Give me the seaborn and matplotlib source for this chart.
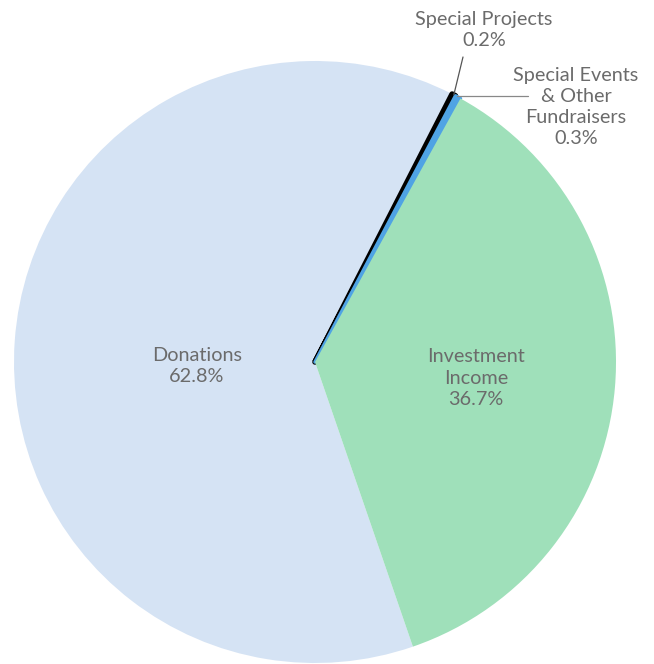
import matplotlib
matplotlib.use("Agg")
import matplotlib.pyplot as plt
import seaborn as sns
import numpy as np

categories = ["Investment\nIncome", "Donations", "Special Projects", "Special Events\n& Other\nFundraisers"]
values = [36.7, 62.8, 0.2, 0.3]
pct_labels = ["36.7%", "62.8%", "0.2%", "0.3%"]
colors = ["#9fe0ba", "#d5e3f4", "#000000", "#4fa3e4"]

sns.set_theme(style="white")
plt.rcParams["font.family"] = ["Lato", "DejaVu Sans"]
TEXT = "#6b6b6b"

W, H = 654, 664
fig = plt.figure(figsize=(W / 100, H / 100), dpi=100)
cx, cy, R = 315, 362, 301
ax = fig.add_axes([(cx - R) / W, (H - cy - R) / H, 2 * R / W, 2 * R / H])

wedges, _ = ax.pie(values, colors=colors, startangle=90 - 28.9, counterclock=False,
                   radius=1, wedgeprops=dict(linewidth=0))
ax.set_xlim(-1, 1)
ax.set_ylim(-1, 1)
ax.set_aspect("auto")
ax.axis("off")
for w in wedges:
    w.set_clip_on(False)
# thin slices drawn a little wider, like the reference
wedges[2].set_edgecolor(colors[2]); wedges[2].set_linewidth(4.0)
wedges[2].set_joinstyle("round"); wedges[2].set_zorder(3)
wedges[3].set_edgecolor(colors[3]); wedges[3].set_linewidth(2.5)
wedges[3].set_joinstyle("round"); wedges[3].set_zorder(4)
wedges[0].set_zorder(5)
wedges[1].set_zorder(2)

def px(x, y):
    return ((x - cx) / R, (cy - y) / R)

fs = 14.3
ls = 1.3
# inside labels
ax.text(*px(197, 366), f"{categories[1]}\n{pct_labels[1]}", ha="center", va="center",
        color=TEXT, fontsize=fs, linespacing=ls, zorder=10)
ax.text(*px(476, 378), f"{categories[0]}\n{pct_labels[0]}", ha="center", va="center",
        color=TEXT, fontsize=fs, linespacing=ls, zorder=10)

def wedge_edge(w, r=1.0):
    ang = np.deg2rad((w.theta1 + w.theta2) / 2)
    return (r * np.cos(ang), r * np.sin(ang))

# Special Projects
s = wedge_edge(wedges[2], 1.0)
e = px(463, 57)
ax.plot([s[0], e[0]], [s[1], e[1]], color="#555555", lw=0.9, clip_on=False, zorder=10)
ax.text(*px(484, 30), f"{categories[2]}\n{pct_labels[2]}", ha="center", va="center",
        color=TEXT, fontsize=fs, linespacing=ls)

# Special Events
s = wedge_edge(wedges[3], 0.995)
e = (px(528, 0)[0], px(0, 96)[1])
ax.plot([s[0], e[0]], [e[1], e[1]], color="#888888", lw=0.9, clip_on=False, zorder=10)
ax.text(*px(576, 107), f"{categories[3]}\n{pct_labels[3]}", ha="center", va="center",
        color=TEXT, fontsize=fs, linespacing=ls)

fig.savefig("out.png", dpi=100)
